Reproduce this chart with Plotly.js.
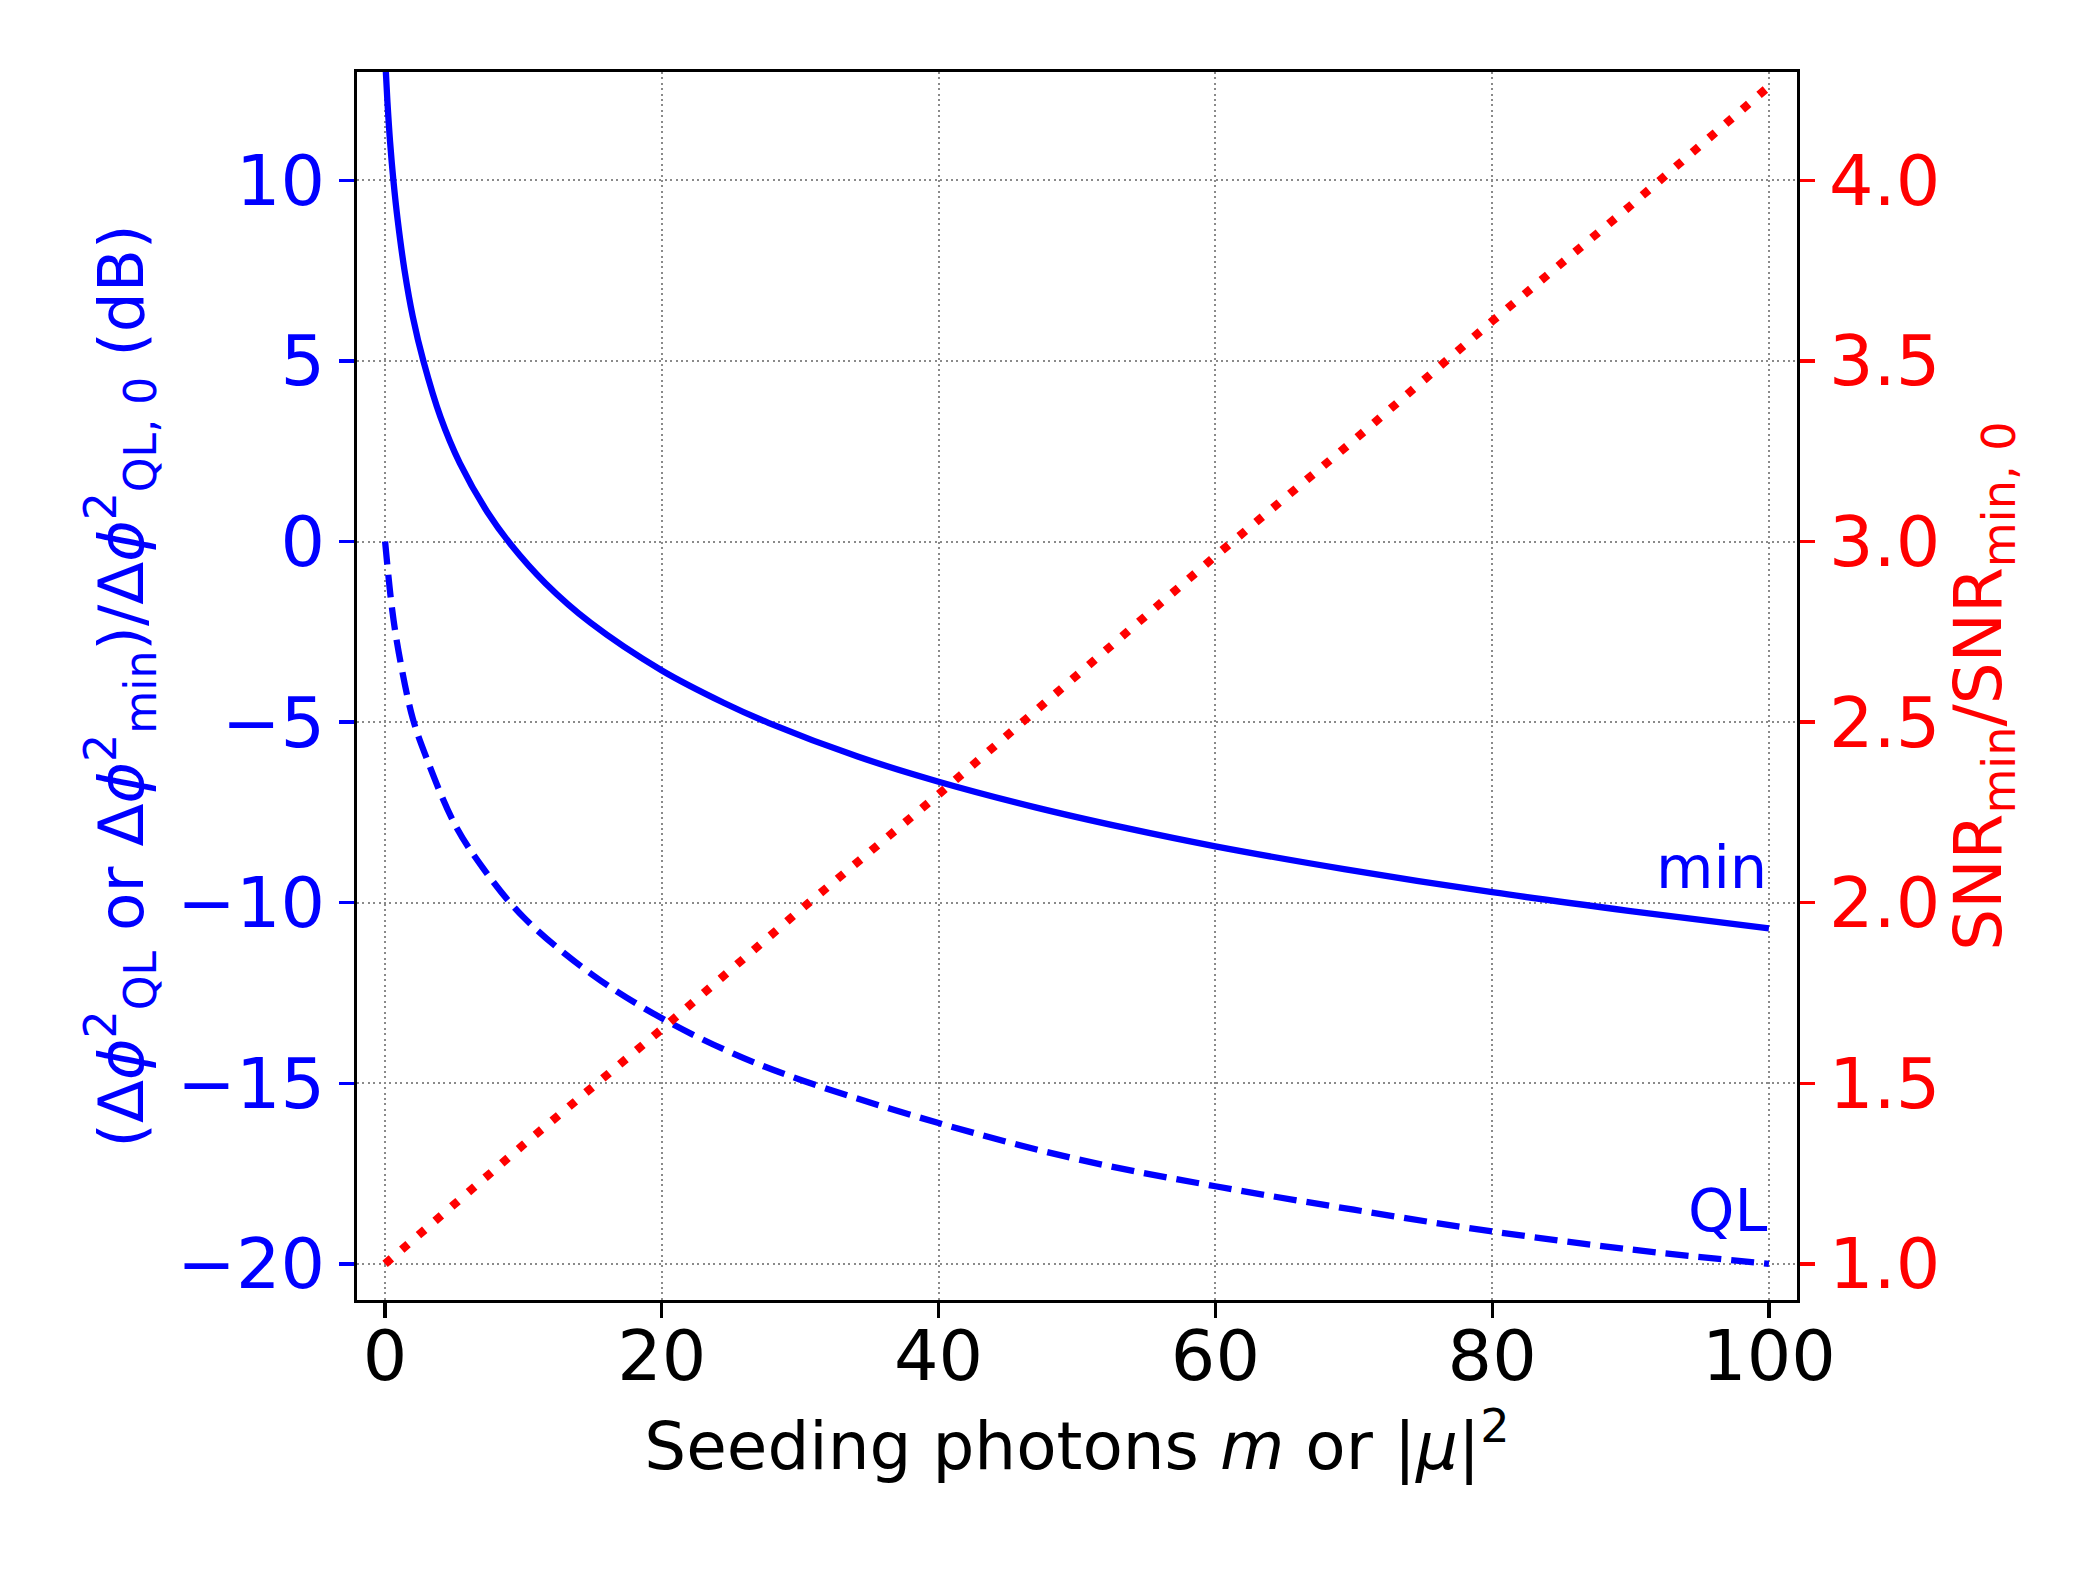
<!DOCTYPE html>
<html>
<head>
<meta charset="utf-8">
<script src="https://cdn.plot.ly/plotly-3.0.1.min.js"></script>
<style>
  html, body { margin: 0; padding: 0; background: #fff; }
  #chart { width: 2100px; height: 1575px; }
</style>
</head>
<body>
<div id="chart"></div>
<script>
// values
var minM = [0, 0.17, 0.36, 0.6, 0.92, 1.4, 2.0, 2.78, 4.0, 5.4, 7.4, 9.1, 11.6, 14.85, 20, 24.5, 27.7, 34.2, 40, 47, 53.5, 60, 69.3, 80, 90, 100];
var minDb = [13.4, 12.17, 11.07, 10.0, 8.87, 7.52, 6.23, 4.98, 3.45, 2.17, 0.81, -0.09, -1.16, -2.25, -3.57, -4.47, -5.02, -5.96, -6.65, -7.36, -7.93, -8.44, -9.07, -9.71, -10.23, -10.71];

var qlM = [0, 0.5, 1, 2, 3, 5, 7, 10, 15, 20, 25, 30, 40, 50, 60, 70, 80, 90, 100];
var qlDb = [0, -1.85, -3.1, -4.9, -6.0, -7.8, -9.0, -10.4, -12.0, -13.2, -14.15, -14.9, -16.1, -17.1, -17.85, -18.5, -19.1, -19.6, -20.0];

var snrM = [0, 10, 20, 30, 40, 50, 60, 70, 80, 90, 100];
var snrRatio = [1.0, 1.33, 1.65, 1.98, 2.30, 2.63, 2.96, 3.28, 3.61, 3.93, 4.26];

var xTicks = [0, 20, 40, 60, 80, 100];
var leftTicks = [-20, -15, -10, -5, 0, 5, 10];
var rightTicks = [1.0, 1.5, 2.0, 2.5, 3.0, 3.5, 4.0];

var FONT = 'DejaVu Sans';
var BLUE = '#0000ff';
var RED = '#ff0000';

var traces = [
  {
    x: minM, y: minDb, type: 'scatter', mode: 'lines',
    line: {color: BLUE, width: 6.3, shape: 'spline', smoothing: 1},
    hoverinfo: 'skip', showlegend: false
  },
  {
    x: qlM, y: qlDb, type: 'scatter', mode: 'lines',
    line: {color: BLUE, width: 6.3, dash: '23px,10px', shape: 'spline', smoothing: 1},
    hoverinfo: 'skip', showlegend: false
  },
  {
    x: snrM, y: snrRatio, type: 'scatter', mode: 'lines', yaxis: 'y2',
    line: {color: RED, width: 8.3, dash: '8.3px,13.7px'},
    hoverinfo: 'skip', showlegend: false
  }
];

var gridStyle = {
  showgrid: true, gridcolor: '#8a8a8a', gridwidth: 2, griddash: '2px,3.4px'
};

var layout = {
  width: 2100, height: 1575,
  margin: {l: 357, r: 303, t: 72, b: 275, pad: 0},
  paper_bgcolor: '#ffffff',
  plot_bgcolor: '#ffffff',
  font: {family: FONT, size: 66, color: '#000'},
  xaxis: Object.assign({
    range: [-2.03, 102.03],
    tickvals: xTicks,
    ticks: 'outside', ticklen: 14.6, tickwidth: 3.3, tickcolor: '#000',
    ticklabelstandoff: -22,
    tickfont: {family: FONT, size: 70, color: '#000'},
    showline: true, linecolor: '#000', linewidth: 3.3, mirror: true,
    zeroline: false,
    title: {
      text: 'Seeding photons <i>m</i> or |<i>μ</i>|<sup>2</sup>',
      font: {family: FONT, size: 66, color: '#000'},
      standoff: 28
    }
  }, gridStyle),
  yaxis: Object.assign({
    range: [-21, 13],
    tickvals: leftTicks,
    ticks: 'outside', ticklen: 14.6, tickwidth: 3.3, tickcolor: BLUE,
    tickfont: {family: FONT, size: 70, color: BLUE},
    showline: true, linecolor: '#000', linewidth: 3.3,
    zeroline: false,
    title: {
      text: '(Δ<i>ϕ</i><sup>2</sup><sub>QL</sub> or Δ<i>ϕ</i><sup>2</sup><sub>min</sub>)/Δ<i>ϕ</i><sup>2</sup><sub>QL, 0</sub> (dB)',
      font: {family: FONT, size: 63, color: BLUE},
      standoff: 14
    }
  }, gridStyle),
  yaxis2: {
    overlaying: 'y', side: 'right',
    range: [0.9, 4.3],
    tickvals: rightTicks, tickformat: '.1f',
    ticks: 'outside', ticklen: 14.6, tickwidth: 3.3, tickcolor: RED,
    tickfont: {family: FONT, size: 70, color: RED},
    showline: true, linecolor: '#000', linewidth: 3.3,
    showgrid: false, zeroline: false,
    title: {
      text: 'SNR<sub>min</sub>/SNR<sub>min, 0</sub>',
      font: {family: FONT, size: 66, color: RED},
      standoff: 16
    }
  },
  annotations: [
    {x: 100, y: -9.5, xref: 'x', yref: 'y', text: 'min', showarrow: false,
     xanchor: 'right', yanchor: 'bottom', yshift: -19,
     font: {family: FONT, size: 59, color: BLUE}},
    {x: 100, y: -19, xref: 'x', yref: 'y', text: 'QL', showarrow: false,
     xanchor: 'right', yanchor: 'bottom', yshift: -19,
     font: {family: FONT, size: 59, color: BLUE}}
  ]
};

Plotly.newPlot('chart', traces, layout, {staticPlot: true, displayModeBar: false});
</script>
</body>
</html>
